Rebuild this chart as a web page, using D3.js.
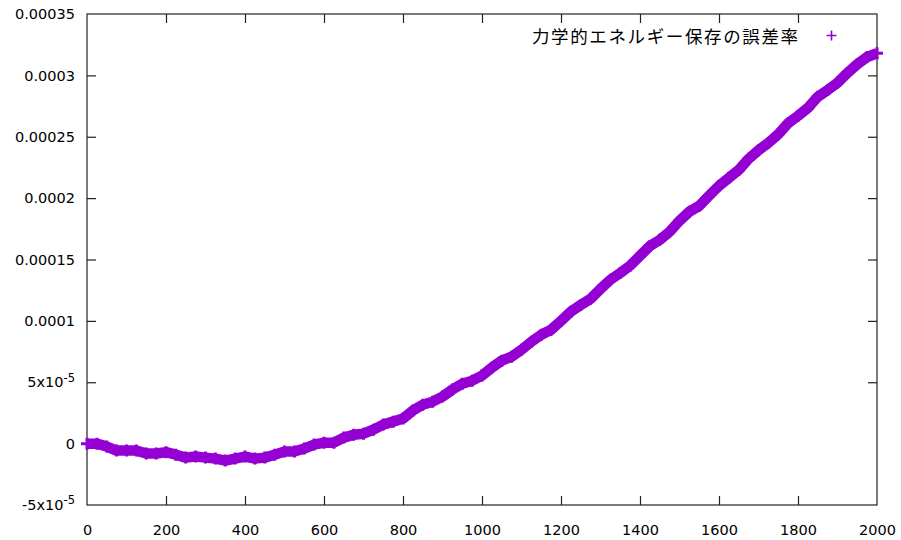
<!DOCTYPE html>
<html lang="ja">
<head>
<meta charset="UTF-8" />
<title>力学的エネルギー保存の誤差率</title>
<script src="https://cdn.jsdelivr.net/npm/d3@7/dist/d3.min.js"></script>
<style>
  body { margin: 0; background: #fff; }
  text { font-family: Tahoma, "DejaVu Sans", "Noto Sans CJK JP", sans-serif; font-size: 14.5px; fill: #000; }
</style>
</head>
<body>
<svg width="901" height="540"></svg>
<script>
// 時刻（ステップ）
const steps = [0, 25, 50, 75, 100, 125, 150, 175, 200, 225, 250, 275, 300, 325, 350, 375, 400, 425, 450, 475,
  500, 525, 550, 575, 600, 625, 650, 675, 700, 725, 750, 775, 800, 825, 850, 875, 900, 925, 950, 975,
  1000, 1025, 1050, 1075, 1100, 1125, 1150, 1175, 1200, 1225, 1250, 1275, 1300, 1325, 1350, 1375, 1400, 1425, 1450, 1475,
  1500, 1525, 1550, 1575, 1600, 1625, 1650, 1675, 1700, 1725, 1750, 1775, 1800, 1825, 1850, 1875, 1900, 1925, 1950, 1975, 2000]
// 誤差率 (x1e-6)
const errMicro = [0, 0, -2.4, -5.7, -5.7, -5.7, -8, -8, -7, -9, -11.4, -10.5, -11.4, -12.2, -13.8, -12.2, -10.5, -12.2, -11.4, -9,
  -6.5, -6.5, -4, -0.8, 0.8, 0.8, 4.9, 7.3, 8.1, 11.4, 15.5, 17.9, 20.4, 26.9, 31.7, 34.2, 38.3, 44, 48.8, 51.3,
  55.4, 61.9, 67.6, 70.8, 76.5, 83, 88.7, 92.8, 100, 107.5, 113, 118, 126, 133.5, 139, 145, 153, 161, 166, 172.6,
  181.5, 189, 193.7, 202, 210, 216.5, 223, 232, 239, 245, 252, 261, 267, 273.5, 282.5, 288, 294, 302, 309, 315, 318]
const xTicks = [0, 200, 400, 600, 800, 1000, 1200, 1400, 1600, 1800, 2000]
const yTicks = [-0.00005, 0, 0.00005, 0.0001, 0.00015, 0.0002, 0.00025, 0.0003, 0.00035]
const yLabels = ['-5x10^-5', '0', '5x10^-5', '0.0001', '0.00015', '0.0002', '0.00025', '0.0003', '0.00035']
const legendLabel = '力学的エネルギー保存の誤差率'

const data = steps.map((s, i) => ({ x: s, y: errMicro[i] * 1e-6 }))
const purple = '#9400d3'

const svg = d3.select('svg')
const mLeft = 87, mRight = 877, mTop = 14, mBottom = 505

const x = d3.scaleLinear().domain([0, 2000]).range([mLeft, mRight])
const y = d3.scaleLinear().domain([-0.00005, 0.00035]).range([mBottom, mTop])

// 目盛り（内向き、上と右にもミラー）
const tickLen = 9
const g = svg.append('g')
g.append('g').attr('transform', `translate(0,${mBottom})`)
  .call(d3.axisBottom(x).tickValues(xTicks).tickSize(-tickLen).tickPadding(tickLen + 11).tickFormat(d3.format('d')))
g.append('g').attr('transform', `translate(0,${mTop})`)
  .call(d3.axisTop(x).tickValues(xTicks).tickSize(-tickLen).tickFormat(''))
const yAxis = g.append('g').attr('transform', `translate(${mLeft},0)`)
  .call(d3.axisLeft(y).tickValues(yTicks).tickSize(-tickLen).tickPadding(tickLen + 10).tickFormat(''))
g.append('g').attr('transform', `translate(${mRight},0)`)
  .call(d3.axisRight(y).tickValues(yTicks).tickSize(-tickLen).tickFormat(''))
g.selectAll('.domain').remove()
g.selectAll('.tick line').attr('stroke', '#222').attr('stroke-width', 1.2)
g.selectAll('text').attr('font-size', null).attr('font-family', null).attr('fill', null)
g.selectAll('.tick').filter(d => d === 0 || d === 2000 || d === -0.00005 || d === 0.00035).select('line').remove()

// y ラベル（指数は上付き）
yAxis.selectAll('.tick').each(function (d, i) {
  const t = d3.select(this).select('text').text(null).attr('x', -12).attr('dy', '0.32em')
  const parts = yLabels[i].split('^')
  t.append('tspan').text(parts[0])
  if (parts[1]) t.append('tspan').attr('dy', '-0.5em').attr('font-size', '11.5px').text(parts[1])
})

// 枠
svg.append('rect')
  .attr('x', mLeft).attr('y', mTop).attr('width', mRight - mLeft).attr('height', mBottom - mTop)
  .attr('fill', 'none').attr('stroke', '#222').attr('stroke-width', 1.2)

// データ
const line = d3.line().x(d => x(d.x)).y(d => y(d.y)).curve(d3.curveLinear)
svg.append('path').datum(data).attr('d', line)
  .attr('fill', 'none').attr('stroke', purple).attr('stroke-width', 10.5).attr('stroke-linejoin', 'round')

svg.append('g').selectAll('path.pt').data(data).enter().append('path')
  .attr('class', 'pt')
  .attr('transform', d => `translate(${x(d.x)},${y(d.y)})`)
  .attr('d', 'M-6,0H6M0,-6V6')
  .attr('stroke', purple).attr('stroke-width', 3)

// 凡例
svg.append('text').attr('x', 532).attr('y', 43)
  .attr('textLength', 266).attr('lengthAdjust', 'spacing')
  .style('font-family', '"Noto Sans CJK JP", sans-serif').style('font-size', '17.5px').text(legendLabel)
svg.append('path').attr('transform', 'translate(831.5,35.5)').attr('d', 'M-5,0H5M0,-5V5')
  .attr('stroke', purple).attr('stroke-width', 1.6)
</script>
</body>
</html>
